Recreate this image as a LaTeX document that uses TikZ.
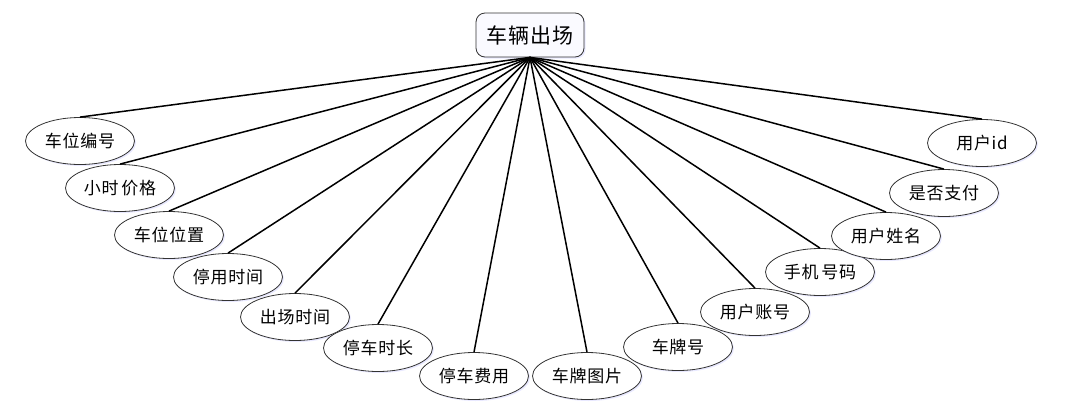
\documentclass[tikz,border=0pt]{standalone}
\usepackage{fontspec}
\setmainfont{Noto Sans CJK SC}[LetterSpace=4]
\usetikzlibrary{shapes.geometric,shadows}
\tikzset{
  attr/.style={ellipse, draw=black!80, line width=0.8pt, fill=white,
    minimum width=109pt, minimum height=47pt, inner sep=0pt,
    font=\fontsize{17}{17}\selectfont,
    drop shadow={shadow xshift=1.5pt, shadow yshift=-1.5pt, fill=blue!25, opacity=0.35}},
  ent/.style={rectangle, rounded corners=9pt, draw=black!80, line width=0.8pt,
    fill=blue!2, minimum width=108pt, minimum height=44pt, inner sep=0pt,
    font=\fontsize{21}{21}\selectfont,
    drop shadow={shadow xshift=1.5pt, shadow yshift=-1.5pt, fill=blue!25, opacity=0.35}},
  link/.style={line width=1.5pt, black}
}
\begin{document}
\begin{tikzpicture}[x=1pt,y=-1pt]
\useasboundingbox (0,0) rectangle (1076,410);
\node[ent] (top) at (530,35) {车辆出场};
\node[attr] (a1) at (80,141) {车位编号};
\node[attr] (a2) at (120,188) {小时\,价格};
\node[attr] (a3) at (169,235) {车位位置};
\node[attr] (a4) at (228,277) {停用时间};
\node[attr] (a5) at (295,317) {出场时间};
\node[attr] (a6) at (378,348) {停车时长};
\node[attr] (a7) at (474,376) {停车费用};
\node[attr] (a8) at (587,376) {车牌图片};
\node[attr] (a9) at (678,347) {车牌号};
\node[attr] (a10) at (755,312) {用户账号};
\node[attr] (a11) at (820,272) {手机\,号码};
\node[attr] (a12) at (886,236) {用户姓名};
\node[attr] (a13) at (944,193) {是否支付};
\node[attr] (a14) at (982,143) {用户id};
\foreach \i in {1,...,14} {
  \draw[link] (top.south) -- (a\i.north);
}
\end{tikzpicture}
\end{document}
